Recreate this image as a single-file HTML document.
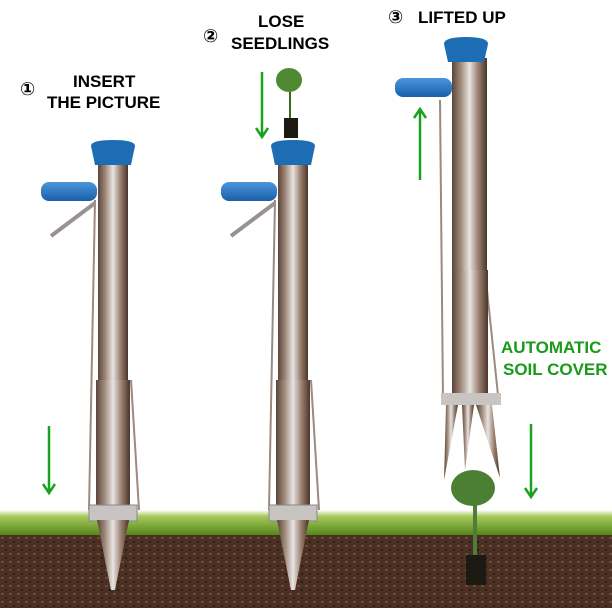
<!DOCTYPE html>
<html><head><style>
body{margin:0;background:#fff;}
svg{display:block}
text{font-family:"Liberation Sans","DejaVu Sans",sans-serif;font-weight:bold}
</style></head><body>
<svg width="612" height="612" viewBox="0 0 612 612" xmlns="http://www.w3.org/2000/svg">
<defs>
<linearGradient id="steel" x1="0" x2="1" y1="0" y2="0">
<stop offset="0" stop-color="#5a4538"/><stop offset="0.25" stop-color="#a08a7c"/><stop offset="0.5" stop-color="#e8e4e2"/><stop offset="0.75" stop-color="#9a8070"/><stop offset="1" stop-color="#4a3529"/>
</linearGradient>
<linearGradient id="grass" x1="0" x2="0" y1="0" y2="1">
<stop offset="0" stop-color="#ffffff"/><stop offset="0.25" stop-color="#a6c85a"/><stop offset="1" stop-color="#4f8318"/>
</linearGradient>
<linearGradient id="blue" x1="0" x2="0" y1="0" y2="1">
<stop offset="0" stop-color="#4a96dc"/><stop offset="1" stop-color="#1a5fa8"/>
</linearGradient>
<pattern id="soil" width="8" height="8" patternUnits="userSpaceOnUse">
<rect width="8" height="8" fill="#4a3022"/><rect x="1" y="1" width="3" height="2" fill="#6e4a36"/><rect x="5" y="5" width="2" height="2" fill="#2e1c12"/>
</pattern>
<g id="tool">
<line x1="-18" y1="200" x2="-24" y2="510" stroke="#9a8a80" stroke-width="2"/>
<line x1="18" y1="380" x2="26" y2="510" stroke="#9a8a80" stroke-width="2"/>
<rect x="-15" y="160" width="30" height="225" fill="url(#steel)"/>
<rect x="-17" y="380" width="34" height="130" fill="url(#steel)"/>
<rect x="-24" y="505" width="48" height="16" fill="#c8c4c2" stroke="#888" stroke-width="1"/>
<polygon points="-16,520 16,520 2,590 -2,590" fill="url(#steel)"/>
<path d="M-22 146 Q-22 140 0 140 Q22 140 22 146 L18 165 L-18 165 Z" fill="#1d6db5"/>
<rect x="-72" y="182" width="56" height="19" rx="8" fill="url(#blue)"/>
<line x1="-62" y1="236" x2="-18" y2="203" stroke="#9a9290" stroke-width="4"/>
</g>
</defs>
<rect x="0" y="510" width="612" height="26" fill="url(#grass)"/>
<rect x="0" y="535" width="612" height="73" fill="url(#soil)"/>
<use href="#tool" x="113"/>
<use href="#tool" x="293"/>
<!-- tool 3 -->
<line x1="440" y1="100" x2="443" y2="400" stroke="#9a8a80" stroke-width="2"/>
<line x1="487" y1="290" x2="498" y2="395" stroke="#9a8a80" stroke-width="2"/>
<rect x="452" y="58" width="35" height="215" fill="url(#steel)"/>
<rect x="452" y="270" width="36" height="128" fill="url(#steel)"/>
<rect x="441" y="393" width="60" height="12" fill="#c8c4c2"/>
<polygon points="446,405 458,405 444,480" fill="url(#steel)"/>
<polygon points="462,405 474,405 465,470" fill="url(#steel)"/>
<polygon points="476,405 492,405 500,478" fill="url(#steel)"/>
<path d="M444 44 Q444 37 466 37 Q488 37 488 44 L484 62 L448 62 Z" fill="#1d6db5"/>
<rect x="395" y="78" width="57" height="19" rx="8" fill="url(#blue)"/>
<!-- seedlings -->
<rect x="284" y="118" width="14" height="20" fill="#1b1b14"/>
<path d="M290 118 C290 100 290 90 290 82" stroke="#3a6a20" stroke-width="2" fill="none"/>
<ellipse cx="289" cy="80" rx="13" ry="12" fill="#4f8a32"/>
<rect x="466" y="555" width="20" height="30" fill="#1b1b14"/>
<line x1="475" y1="555" x2="475" y2="490" stroke="#4e7d35" stroke-width="4"/>
<ellipse cx="473" cy="488" rx="22" ry="18" fill="#4b7f34"/>
<!-- arrows -->
<g stroke="#19a21f" stroke-width="2.5" fill="none">
<path d="M49 426 V492 M43 484 L49 493 L55 484"/>
<path d="M262 72 V136 M256 128 L262 137 L268 128"/>
<path d="M420 180 V110 M414 118 L420 109 L426 118"/>
<path d="M531 424 V496 M525 488 L531 497 L537 488"/>
</g>
<text x="20" y="95" font-size="18" font-weight="normal">①</text>
<text x="73" y="87" font-size="17">INSERT</text>
<text x="47" y="108" font-size="17">THE PICTURE</text>
<text x="203" y="42" font-size="18" font-weight="normal">②</text>
<text x="258" y="27" font-size="17">LOSE</text>
<text x="231" y="49" font-size="17">SEEDLINGS</text>
<text x="388" y="23" font-size="18" font-weight="normal">③</text>
<text x="418" y="23" font-size="17">LIFTED UP</text>
<text x="501" y="353" font-size="17" fill="#1a9a1a">AUTOMATIC</text>
<text x="503" y="375" font-size="17" fill="#1a9a1a">SOIL COVER</text>
</svg>
</body></html>
